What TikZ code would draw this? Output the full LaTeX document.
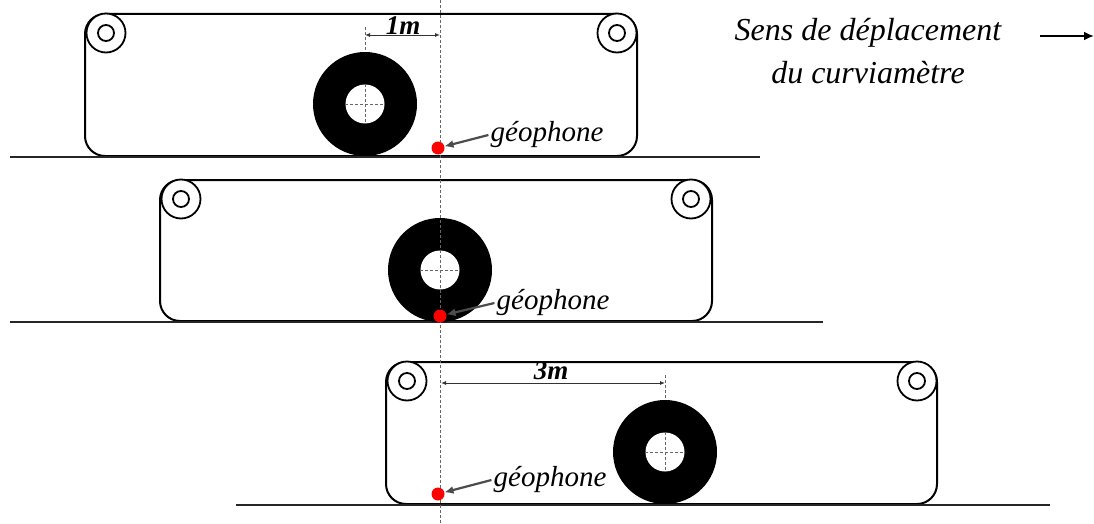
\documentclass[tikz,border=0pt]{standalone}
\usepackage{fontspec}
\setmainfont{Liberation Serif}
\usepackage{tikz}
\usetikzlibrary{arrows,arrows.meta,positioning}

\tikzset{
  frame/.style={draw=black,line width=2pt,rounded corners=20pt},
  ground/.style={draw=black!85,line width=2pt},
  roller/.style={circle,draw=black,line width=1.8pt,fill=white,minimum size=39pt,inner sep=0pt},
  rollerhole/.style={circle,draw=black,line width=1.8pt,minimum size=16pt,inner sep=0pt},
  wheel/.style={circle,fill=black,minimum size=104pt,inner sep=0pt},
  wheelhole/.style={circle,fill=white,minimum size=39pt,inner sep=0pt},
  axis/.style={draw=black!60,densely dashed,line width=0.7pt},
  geodot/.style={circle,fill=red,minimum size=13pt,inner sep=0pt},
  geolabel/.style={font=\fontsize{29}{32}\selectfont\itshape,inner sep=2pt},
  dimlabel/.style={font=\fontsize{27}{30}\selectfont\itshape\bfseries,inner sep=0pt},
  geoarrow/.style={-{Latex[length=9pt,width=8pt]},draw=black!70,line width=2.2pt},
  dimarrow/.style={{Latex[length=5pt,width=4pt]}-{Latex[length=5pt,width=4pt]},draw=black!80,line width=0.9pt}
}

\begin{document}
\begin{tikzpicture}[x=1pt,y=-1pt]

\useasboundingbox (0,0) rectangle (1094,524);

% first position
\draw[frame] (85,14) rectangle (637,156);
\draw[ground] (10,156.5) -- (760,156.5);

\node[roller] (ra1) at (106,33) {};
\node[rollerhole] (rb1) at (106,33) {};
\node[roller] (rc1) at (617,33) {};
\node[rollerhole] (rd1) at (617,33) {};

\node[wheel] (w1) at (365,104) {};
\node[wheelhole] (h1) at (365,104) {};
\draw[axis] (h1.north) -- (h1.south);
\draw[axis] (h1.west) -- (h1.east);

% second position
\draw[frame] (160,180) rectangle (712,321);
\draw[ground] (10,321.5) -- (823,321.5);

\node[roller] (ra2) at (181,199) {};
\node[rollerhole] (rb2) at (181,199) {};
\node[roller] (rc2) at (691,199) {};
\node[rollerhole] (rd2) at (691,199) {};

\node[wheel] (w2) at (440,270) {};
\node[wheelhole] (h2) at (440,270) {};
\draw[axis] (h2.north) -- (h2.south);
\draw[axis] (h2.west) -- (h2.east);

% third position
\draw[frame] (386,362) rectangle (937,504);
\draw[ground] (236,504.5) -- (1050,504.5);

\node[roller] (ra3) at (407,381) {};
\node[rollerhole] (rb3) at (407,381) {};
\node[roller] (rc3) at (917,381) {};
\node[rollerhole] (rd3) at (917,381) {};

\node[wheel] (w3) at (665,452) {};
\node[wheelhole] (h3) at (665,452) {};
\draw[axis] (h3.north) -- (h3.south);
\draw[axis] (h3.west) -- (h3.east);

% reference line
\coordinate (top) at (440,0);
\coordinate (bottom) at (440,524);
\draw[axis] (top) -- (bottom);

% distances
\coordinate (t1) at (365,27);
\coordinate (a1) at (365,35);
\coordinate (b1) at (440,35);
\draw[axis] (t1) -- (w1.north);
\draw[dimarrow] (a1) -- (b1);
\node[dimlabel] (d1) at (403,26) {1m};

\coordinate (t3) at (665,375);
\coordinate (a3) at (441,383);
\coordinate (b3) at (665,383);
\draw[axis] (t3) -- (w3.north);
\draw[dimarrow] (a3) -- (b3);
\node[dimlabel] (d3) at (551,371) {3m};

% sensor
\node[geodot] (dot1) at (438,148) {};
\node[geodot] (dot2) at (440,316) {};
\node[geodot] (dot3) at (438,494) {};

\node[geolabel] (geo1) at (547,135) {géophone};
\node[geolabel] (geo2) at (553,303) {géophone};
\node[geolabel] (geo3) at (550,480) {géophone};

\draw[geoarrow] (geo1.west) -- (dot1);
\draw[geoarrow] (geo2.west) -- (dot2);
\draw[geoarrow] (geo3.west) -- (dot3);

% direction of travel
\node[font=\fontsize{32}{35}\selectfont\itshape,align=center] (sens) at (868,51) {Sens de déplacement\\[8pt]du curviamètre};
\coordinate (s) at (1040,36);
\coordinate (e) at (1094,36);
\draw[-{Latex[length=10pt,width=9pt]},draw=black,line width=2.2pt] (s) -- (e);

\end{tikzpicture}
\end{document}
